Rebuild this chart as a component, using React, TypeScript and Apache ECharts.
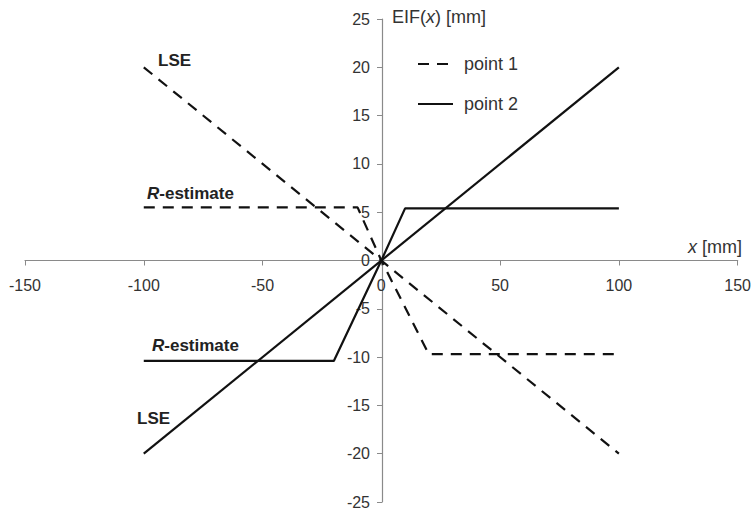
import React, { useEffect, useRef } from "react";
import * as echarts from "echarts";

// Empirical influence functions (EIF) for two points, LSE vs R-estimate
const point1LSE: [number, number][] = [[-100, 20], [100, -20]];
const point1R: [number, number][] = [[-100, 5.5], [-10, 5.5], [0, 0], [20, -9.7], [100, -9.7]];
const point2LSE: [number, number][] = [[-100, -20], [100, 20]];
const point2R: [number, number][] = [[-100, -10.4], [-20, -10.4], [0, 0], [10, 5.4], [100, 5.4]];

const seriesNames = ["point 1", "point 2"];
const xTicks = { min: -150, max: 150, step: 50 };
const yTicks = { min: -25, max: 25, step: 5 };

const FONT = "Liberation Sans, Arial, sans-serif";
const DASH = [11, 8];

// plot area, in pixels
const GRID = { left: 25, right: 15, top: 19, bottom: 10 };
const W = 754;
const H = 512;

export default function App() {
  const ref = useRef<HTMLDivElement>(null);

  useEffect(() => {
    if (!ref.current) return;
    const chart = echarts.init(ref.current, undefined, { renderer: "svg" });

    // axes cross at the origin: shift each axis from the grid edge to zero
    const plotW = W - GRID.left - GRID.right;
    const plotH = H - GRID.top - GRID.bottom;
    const yAxisShift = (plotW * (0 - xTicks.min)) / (xTicks.max - xTicks.min);
    const xAxisShift = (plotH * (0 - yTicks.min)) / (yTicks.max - yTicks.min);

    const line = (name: string, data: [number, number][], dashed: boolean) => ({
      type: "line" as const,
      name,
      data,
      symbol: "none",
      silent: true,
      lineStyle: { color: "#111", width: 2.2, type: dashed ? DASH : "solid" },
      itemStyle: { color: "#111" },
    });

    const labelStyle = {
      fontFamily: FONT,
      fontSize: 17,
      fontWeight: "bold" as const,
      fill: "#222",
    };
    const axisColor = "#8a8a8a";

    chart.setOption({
      animation: false,
      backgroundColor: "#fff",
      grid: { ...GRID },
      xAxis: {
        type: "value",
        position: "bottom",
        offset: -xAxisShift,
        min: xTicks.min,
        max: xTicks.max,
        interval: xTicks.step,
        splitLine: { show: false },
        axisLine: { onZero: false, lineStyle: { color: axisColor, width: 1.2 } },
        axisTick: { show: true, length: 5, lineStyle: { color: axisColor } },
        axisLabel: { color: "#333", fontFamily: FONT, fontSize: 16, margin: 17 },
      },
      yAxis: {
        type: "value",
        position: "left",
        offset: -yAxisShift,
        min: yTicks.min,
        max: yTicks.max,
        interval: yTicks.step,
        splitLine: { show: false },
        axisLine: { onZero: false, lineStyle: { color: axisColor, width: 1.2 } },
        axisTick: { show: true, length: 5, lineStyle: { color: axisColor } },
        axisLabel: { color: "#333", fontFamily: FONT, fontSize: 16, margin: 12 },
      },
      legend: {
        orient: "vertical",
        left: 412,
        top: 50,
        itemGap: 22,
        itemWidth: 35,
        itemHeight: 14,
        data: seriesNames,
        itemStyle: { opacity: 0 },
        textStyle: { color: "#333", fontFamily: FONT, fontSize: 18, padding: [0, 0, 0, 6] },
        selectedMode: false,
      },
      series: [
        line(seriesNames[0], point1LSE, true),
        line(seriesNames[0], point1R, true),
        line(seriesNames[1], point2LSE, false),
        line(seriesNames[1], point2R, false),
      ],
      graphic: [
        {
          type: "text",
          left: 392,
          top: 8,
          style: {
            text: "EIF({i|x}) [mm]",
            fontFamily: FONT,
            fontSize: 18,
            fill: "#333",
            rich: { i: { fontStyle: "italic", fontFamily: FONT, fontSize: 18, fill: "#333" } },
          },
        },
        {
          type: "text",
          left: 688,
          top: 238,
          style: {
            text: "{i|x} [mm]",
            fontFamily: FONT,
            fontSize: 18,
            fill: "#333",
            rich: { i: { fontStyle: "italic", fontFamily: FONT, fontSize: 18, fill: "#333" } },
          },
        },
        { type: "text", left: 158, top: 52, style: { text: "LSE", ...labelStyle } },
        { type: "text", left: 137, top: 410, style: { text: "LSE", ...labelStyle } },
        {
          type: "text",
          left: 147,
          top: 185,
          style: {
            text: "{i|R}-estimate",
            ...labelStyle,
            rich: { i: { ...labelStyle, fontStyle: "italic" } },
          },
        },
        {
          type: "text",
          left: 152,
          top: 337,
          style: {
            text: "{i|R}-estimate",
            ...labelStyle,
            rich: { i: { ...labelStyle, fontStyle: "italic" } },
          },
        },
      ],
    });

    return () => chart.dispose();
  }, []);

  return (
    <div
      ref={ref}
      style={{ position: "fixed", left: 0, top: 0, width: W, height: H, background: "#fff" }}
    />
  );
}
